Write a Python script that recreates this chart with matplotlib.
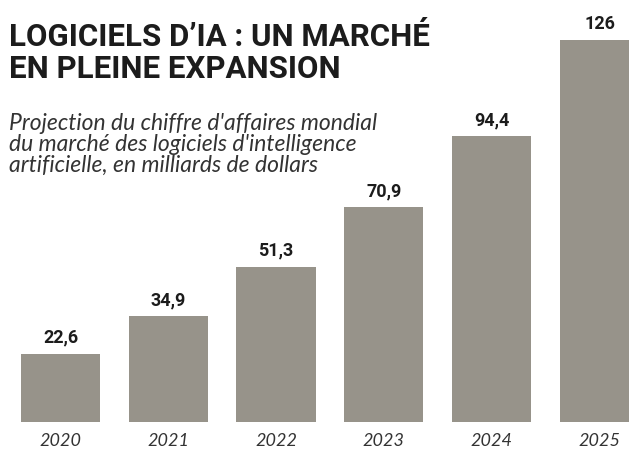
import matplotlib
matplotlib.use("Agg")
import matplotlib.pyplot as plt

# data
years = ["2020", "2021", "2022", "2023", "2024", "2025"]
values = [22.6, 34.9, 51.3, 70.9, 94.4, 126]
value_labels = ["22,6", "34,9", "51,3", "70,9", "94,4", "126"]

W, H = 629, 450
BAR_COLOR = "#97938a"
TEXT_COLOR = "#1c1c1c"

fig = plt.figure(figsize=(W / 100, H / 100), dpi=100)
fig.patch.set_facecolor("white")

# axes spans the whole width, bottom at the bar baseline
base_px = 422
ax = fig.add_axes([0, (H - base_px) / H, 1, base_px / H])
ax.set_xlim(-0.561, 5.274)
ax.set_ylim(0, base_px / 3.03)
ax.axis("off")

x = list(range(len(years)))
ax.bar(x, values, width=0.735, color=BAR_COLOR, edgecolor="none")

for xi, v, lab in zip(x, values, value_labels):
    ax.annotate(lab, (xi, v), xytext=(0, 5), textcoords="offset points",
                ha="center", va="bottom", fontsize=13, fontweight="bold",
                family="Roboto", color=TEXT_COLOR)

for xi, yr in zip(x, years):
    ax.annotate(yr, (xi, 0), xytext=(0, -14), textcoords="offset points",
                ha="center", va="center", fontsize=13, style="italic",
                family="Lato", color="#333333")

# title and subtitle
fig.text(9 / W, 1 - 22 / H, "LOGICIELS D\u2019IA : UN MARCHÉ\nEN PLEINE EXPANSION",
         ha="left", va="top", fontsize=22.5, fontweight="bold", family="Roboto",
         color=TEXT_COLOR, linespacing=1.08)
fig.text(9 / W, 1 - 113 / H,
         "Projection du chiffre d'affaires mondial\n"
         "du marché des logiciels d'intelligence\n"
         "artificielle, en milliards de dollars",
         ha="left", va="top", fontsize=16.5, style="italic", family="Lato",
         color="#333333", linespacing=1.0)

fig.savefig("out.png", dpi=100, facecolor="white")
